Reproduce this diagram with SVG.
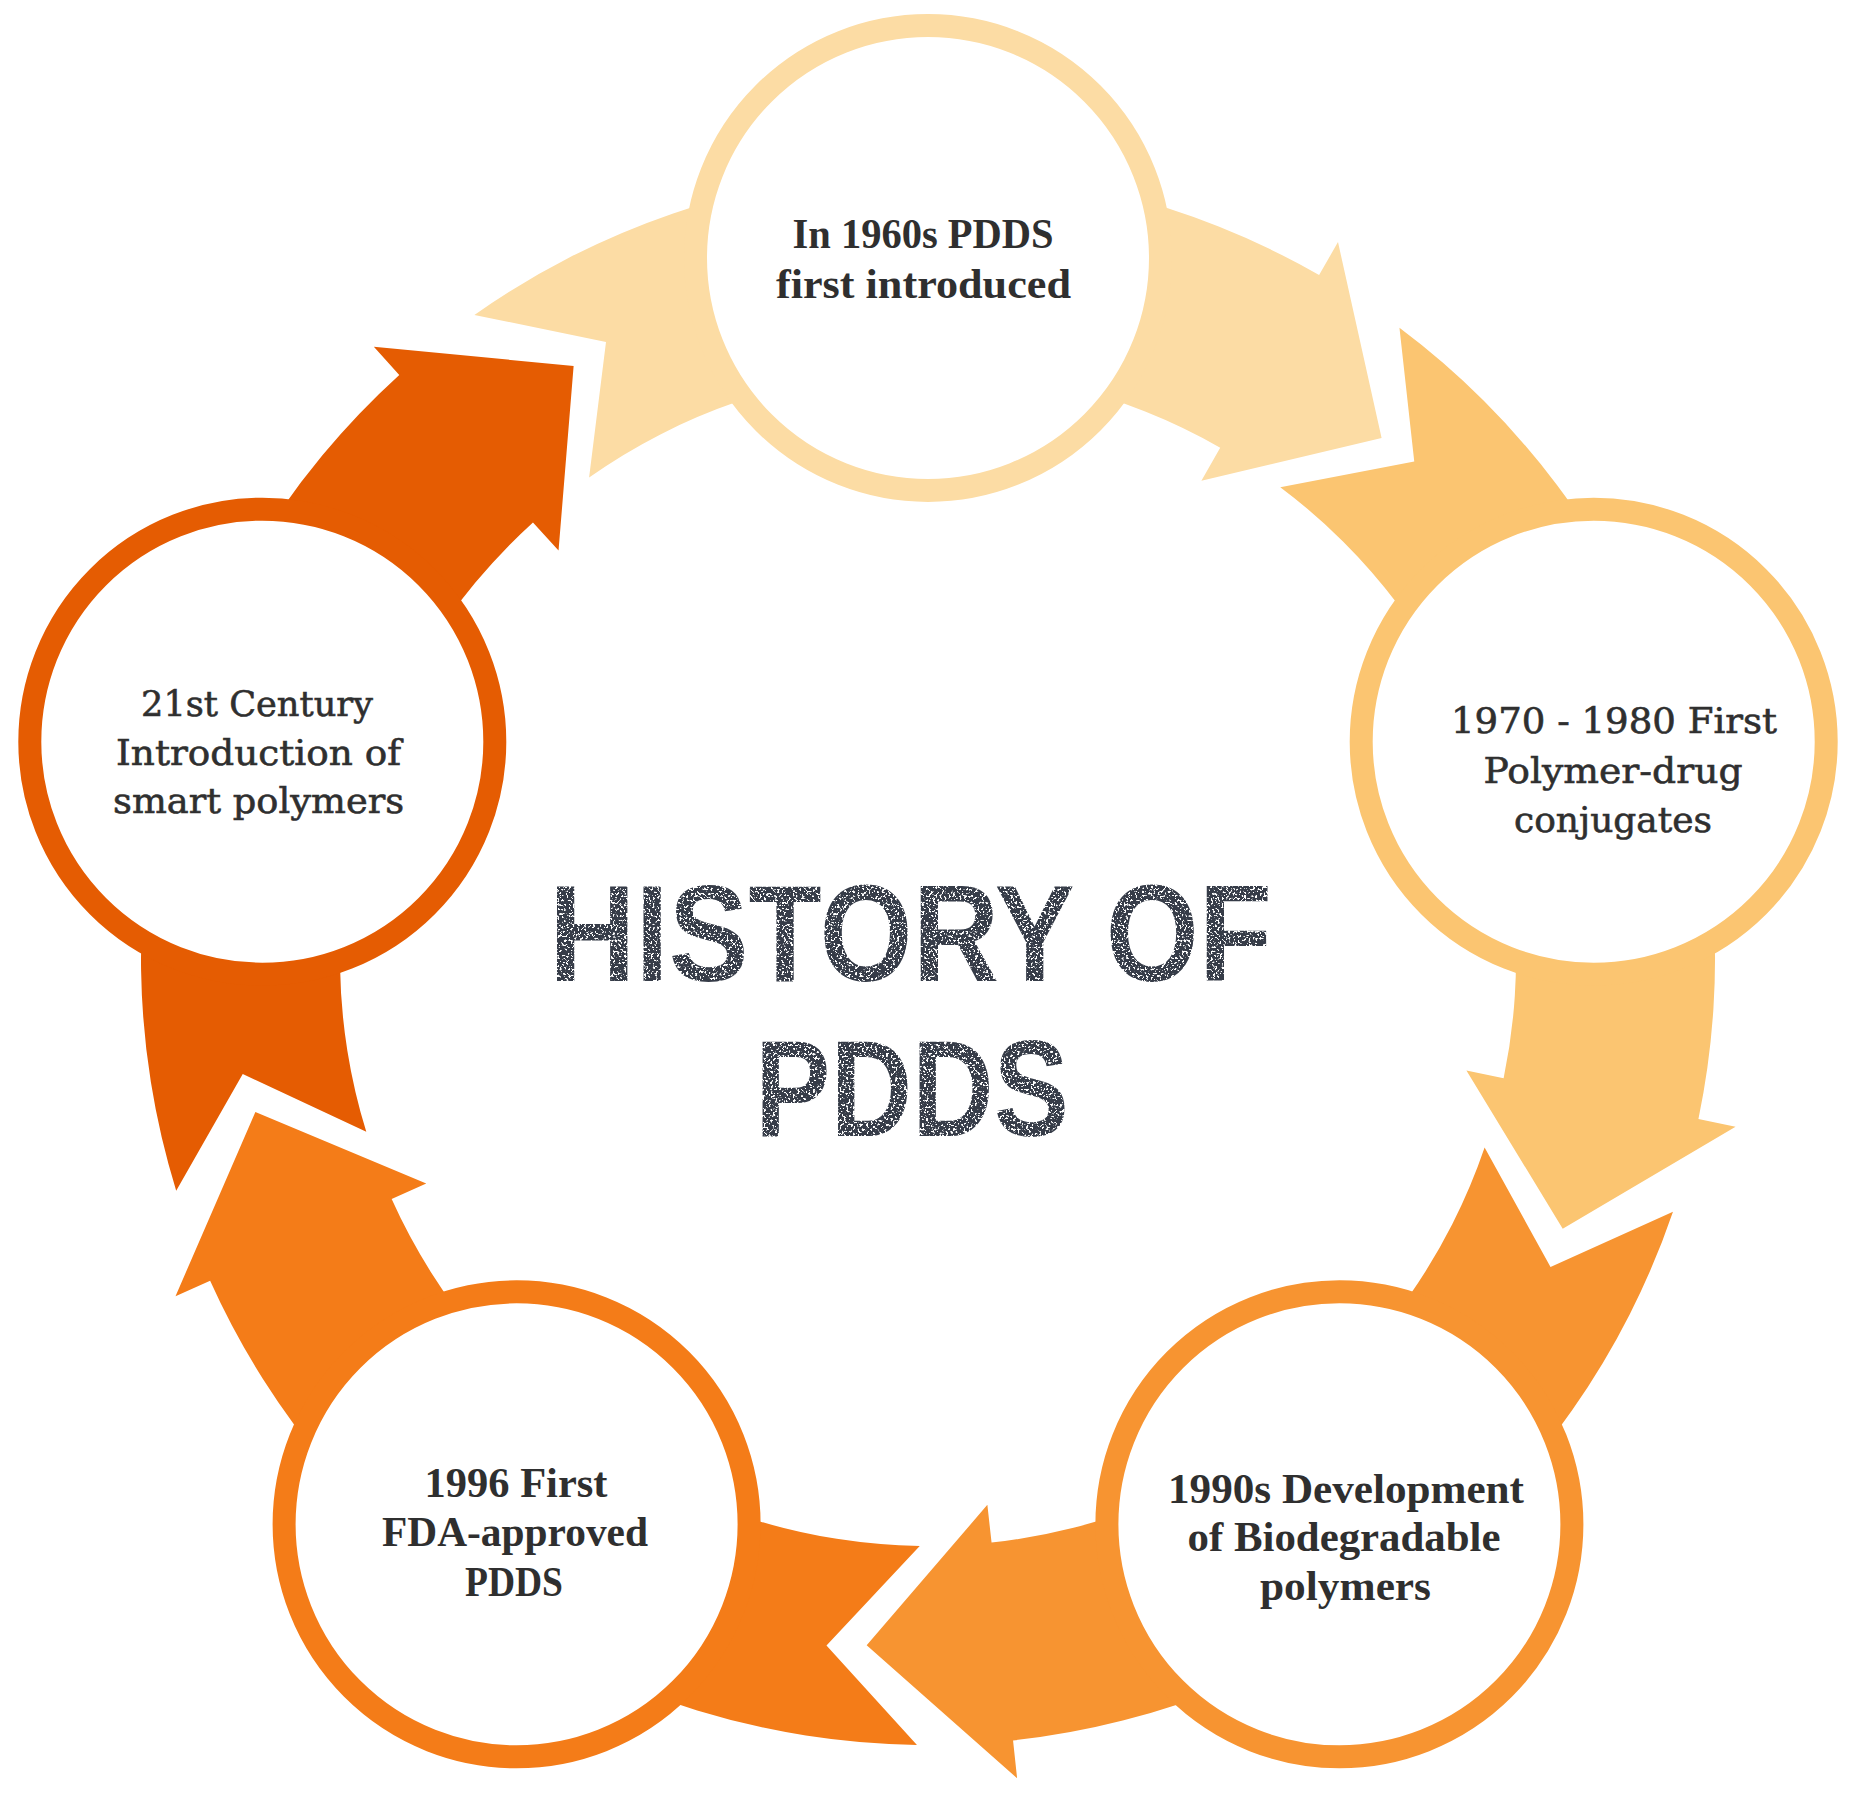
<svg xmlns="http://www.w3.org/2000/svg" width="1862" height="1807" viewBox="0 0 1862 1807">
  <style>
    .ring { fill: #ffffff; stroke-width: 23; }
    .lbl { font-family: "Liberation Serif", "Times New Roman", serif; font-weight: bold; font-size: 42px; fill: #2f2f2f; text-anchor: middle; }
    .lbw { font-family: "DejaVu Serif", "Liberation Serif", serif; font-size: 36px; fill: #2f2f2f; stroke: #2f2f2f; stroke-width: 0.6; text-anchor: middle; }
    .title { font-family: "Liberation Sans Narrow", "Liberation Sans", Arial, sans-serif; font-weight: bold; font-size: 138px; fill: #363c48; text-anchor: middle; }
  </style>
  <defs>
    <path id="band" d="M -453.6 -643.1 L -322.0 -615.9 L -338.9 -480.5 A 588 588 0 0 1 292.2 -510.3 L 273.4 -477.3 L 453.6 -520.0 L 410.0 -715.9 L 391.1 -683.0 A 787 787 0 0 0 -453.6 -643.1 Z"/>
    <filter id="grunge" x="-5%" y="-10%" width="110%" height="120%" color-interpolation-filters="sRGB">
      <feTurbulence type="fractalNoise" baseFrequency="0.45" numOctaves="2" seed="7" result="n"/>
      <feColorMatrix in="n" type="matrix" values="0 0 0 0 0  0 0 0 0 0  0 0 0 0 0  -14 0 0 0 8.9" result="m"/>
      <feComposite in="SourceGraphic" in2="m" operator="in"/>
    </filter>
  </defs>

  <rect x="0" y="0" width="1862" height="1807" fill="#ffffff"/>

  <g id="connectors">
    <use href="#band" transform="translate(928,958)" fill="#FCDCA4"/>
    <use href="#band" transform="translate(928,958) rotate(72)" fill="#FBC571"/>
    <use href="#band" transform="translate(928,958) rotate(144)" fill="#F79431"/>
    <use href="#band" transform="translate(928,958) rotate(216)" fill="#F47C18"/>
    <use href="#band" transform="translate(928,958) rotate(288)" fill="#E55C02"/>
  </g>

  <g id="node-1960s">
    <circle class="ring" cx="928" cy="258" r="232.5" stroke="#FCDCA4"/>
    <text class="lbl" x="923" y="248" textLength="261" lengthAdjust="spacingAndGlyphs">In 1960s PDDS</text>
    <text class="lbl" x="923.5" y="298" textLength="295" lengthAdjust="spacingAndGlyphs">first introduced</text>
  </g>

  <g id="node-1970">
    <circle class="ring" cx="1593.7" cy="741.7" r="232.5" stroke="#FBC571"/>
    <text class="lbw" x="1614" y="733" textLength="326" lengthAdjust="spacingAndGlyphs">1970 - 1980 First</text>
    <text class="lbw" x="1613" y="783" textLength="259" lengthAdjust="spacingAndGlyphs">Polymer-drug</text>
    <text class="lbw" x="1613" y="832" textLength="198" lengthAdjust="spacingAndGlyphs">conjugates</text>
  </g>

  <g id="node-1990s">
    <circle class="ring" cx="1339.4" cy="1524.3" r="232.5" stroke="#F79431"/>
    <text class="lbl" x="1346" y="1503" textLength="356" lengthAdjust="spacingAndGlyphs">1990s Development</text>
    <text class="lbl" x="1344" y="1551" textLength="313" lengthAdjust="spacingAndGlyphs">of Biodegradable</text>
    <text class="lbl" x="1345.5" y="1600" textLength="171" lengthAdjust="spacingAndGlyphs">polymers</text>
  </g>

  <g id="node-1996">
    <circle class="ring" cx="516.6" cy="1524.3" r="232.5" stroke="#F47C18"/>
    <text class="lbl" x="516" y="1497" textLength="183" lengthAdjust="spacingAndGlyphs">1996 First</text>
    <text class="lbl" x="515" y="1546" textLength="266" lengthAdjust="spacingAndGlyphs">FDA-approved</text>
    <text class="lbl" x="514" y="1596" textLength="98" lengthAdjust="spacingAndGlyphs">PDDS</text>
  </g>

  <g id="node-21st">
    <circle class="ring" cx="262.3" cy="741.7" r="232.5" stroke="#E55C02"/>
    <text class="lbw" x="257" y="716" textLength="232" lengthAdjust="spacingAndGlyphs">21st Century</text>
    <text class="lbw" x="258.6" y="765" textLength="285" lengthAdjust="spacingAndGlyphs">Introduction of</text>
    <text class="lbw" x="258.6" y="813" textLength="291" lengthAdjust="spacingAndGlyphs">smart polymers</text>
  </g>

  <g id="title" filter="url(#grunge)">
    <text class="title" x="910.5" y="981" textLength="723" lengthAdjust="spacingAndGlyphs">HISTORY OF</text>
    <text class="title" x="912" y="1136" textLength="314" lengthAdjust="spacingAndGlyphs">PDDS</text>
  </g>
</svg>
